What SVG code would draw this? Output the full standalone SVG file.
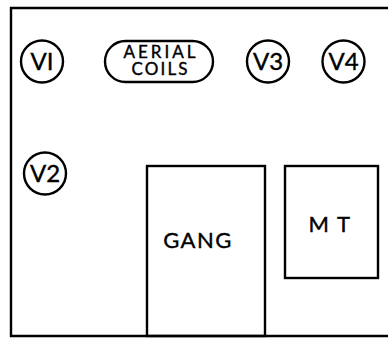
<svg xmlns="http://www.w3.org/2000/svg" width="388" height="339" viewBox="0 0 388 339">
  <style>
    .ln { fill: none; stroke: #000; stroke-width: 2.4; }
    .lbl { font-family: Lato, "Open Sans", "DejaVu Sans", sans-serif; fill: #000; stroke: #000; stroke-width: 0.4; text-anchor: middle; }
    .v { font-size: 24px; }
    .small { font-size: 17px; }
    .box { font-size: 22px; letter-spacing: 1.5px; }
  </style>
  <rect width="388" height="339" fill="#fff"/>
  <!-- chassis outline, open on the right -->
  <g id="chassis">
    <path class="ln" d="M388,8 L11,8 L11,336 L388,336" stroke-width="2.6"/>
  </g>
  <g id="V1">
    <circle class="ln" cx="42" cy="61.5" r="21"/>
    <text class="lbl v" x="42" y="70">VI</text>
  </g>
  <g id="aerial-coils">
    <rect class="ln" x="105" y="41" width="108" height="41" rx="20.5"/>
    <text class="lbl small" x="159.5" y="58" textLength="72" lengthAdjust="spacing">AERIAL</text>
    <text class="lbl small" x="159.5" y="75" textLength="56" lengthAdjust="spacing">COILS</text>
  </g>
  <g id="V3">
    <circle class="ln" cx="268" cy="61.5" r="21"/>
    <text class="lbl v" x="268" y="70">V3</text>
  </g>
  <g id="V4">
    <circle class="ln" cx="343.5" cy="61.5" r="21"/>
    <text class="lbl v" x="343.5" y="70">V4</text>
  </g>
  <g id="V2">
    <circle class="ln" cx="45" cy="173.5" r="21"/>
    <text class="lbl v" x="45" y="182">V2</text>
  </g>
  <g id="gang">
    <rect class="ln" x="147" y="166" width="118" height="170"/>
    <text class="lbl box" x="198" y="248">GANG</text>
  </g>
  <g id="mt">
    <rect class="ln" x="285" y="166" width="93" height="112"/>
    <text class="lbl box" x="330" y="232">M T</text>
  </g>
  <g id="connectors"/>
</svg>
